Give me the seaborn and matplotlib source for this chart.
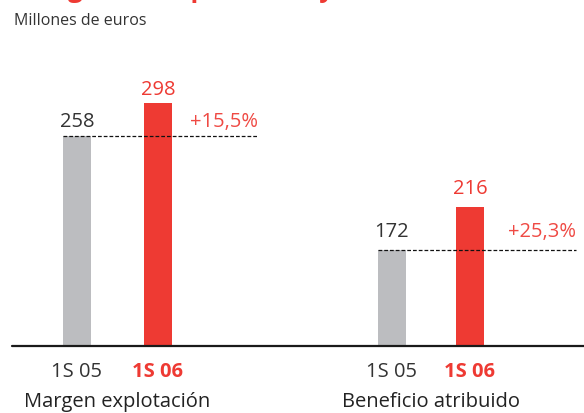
import matplotlib
matplotlib.use("Agg")
import matplotlib.pyplot as plt
from matplotlib.lines import Line2D
import seaborn as sns
import pandas as pd

sns.set_theme(style="white")
plt.rcParams['font.family'] = ['Open Sans', 'DejaVu Sans']

# ---- data ----
periods = ["1S 05", "1S 06"]
groups = ["Margen explotación", "Beneficio atribuido"]
margen_values = [258, 298]
beneficio_values = [172, 216]
growth_labels = ["+15,5%", "+25,3%"]
subtitle = "Millones de euros"
title = "Margen de explotación y beneficio atribuido"

GRAY = "#bcbdc0"
RED = "#ee3a33"
RED_TXT = "#ef4a44"
DARK = "#333333"
FS = 14.5

fig = plt.figure(figsize=(5.84, 4.13), dpi=100)
fig.patch.set_facecolor("white")

bottom = 67 / 413
height = 306 / 413
ax1 = fig.add_axes([12 / 584, bottom, 288 / 584, height])
ax2 = fig.add_axes([300 / 584, bottom, 284 / 584, height])

settings = [
    (ax1, margen_values, groups[0], growth_labels[0], 0.346, (-0.802, 2.753), (0, 375.5), 2.235, 2.5),
    (ax2, beneficio_values, groups[1], growth_labels[1], 0.359, (-1.179, 2.462), (73.7, 386.9), 2.359, 6.0),
]

for ax, vals, gname, glabel, w, xl, yl, xend, pad in settings:
    df = pd.DataFrame({"period": periods, "value": vals})
    sns.barplot(data=df, x="period", y="value", hue="period",
                palette=[GRAY, RED], width=w, legend=False, ax=ax,
                saturation=1, edgecolor="none")
    ax.set_xlim(*xl)
    ax.set_ylim(*yl)
    ax.set_xlabel("")
    ax.set_ylabel("")
    ax.set_yticks([])
    for s in ["top", "left", "right", "bottom"]:
        ax.spines[s].set_visible(False)
    ax.tick_params(axis="x", length=0, pad=11.5, labelsize=FS)
    labels = ax.get_xticklabels()
    labels[0].set_color(DARK)
    labels[1].set_color(RED)
    labels[1].set_fontweight("bold")
    ax.set_facecolor("none")

    # value labels
    for i, v in enumerate(vals):
        ax.annotate(str(v), (i, v), xytext=(0, pad), textcoords="offset points",
                    ha="center", va="bottom", fontsize=FS,
                    color=DARK if i == 0 else RED)
    # dashed reference line at previous value
    ax.plot([-w / 2, xend], [vals[0], vals[0]], linestyle=(0, (3, 1.6)),
            color="#111111", linewidth=0.9, zorder=5)
    ax.annotate(glabel, (xend, vals[0]), xytext=(0, pad), textcoords="offset points",
                ha="right", va="bottom", fontsize=FS, color=RED_TXT)
    # group label
    ax.annotate(gname, (0.5, 0), xycoords=("data", "axes fraction"),
                xytext=(0, -33), textcoords="offset points",
                ha="center", va="top", fontsize=FS, color="#222222")

# baseline across both groups
fig.add_artist(Line2D([12 / 584, 1.0], [bottom, bottom], color="#1a1a1a",
                      linewidth=1.6, transform=fig.transFigure))

fig.text(14 / 584, 1 - 25 / 413, subtitle, fontsize=11.5,
         color=DARK, ha="left", va="baseline")
fig.text(16 / 584, 1 + 3 / 413, title, fontsize=18.7, fontweight="bold",
         color=RED, ha="left", va="baseline")

fig.savefig("out.png", dpi=100, facecolor="white")
